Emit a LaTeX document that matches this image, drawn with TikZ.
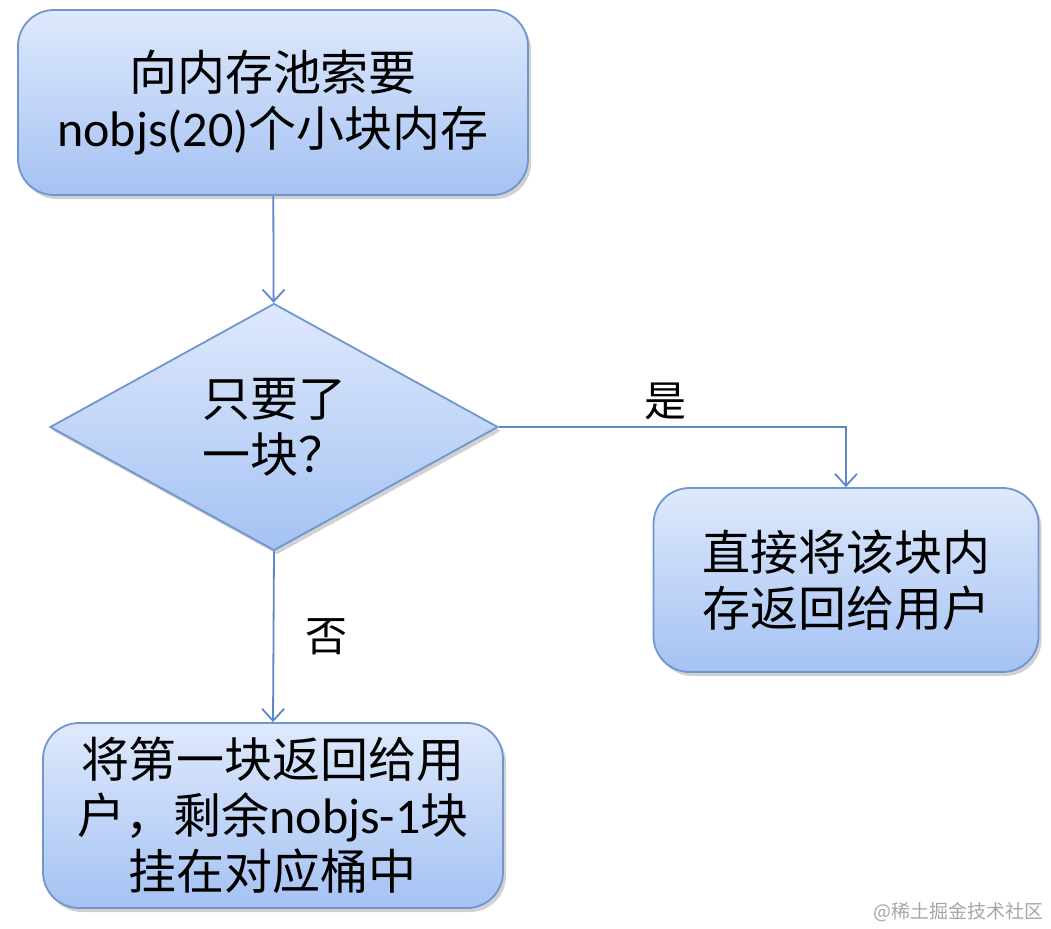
\documentclass[tikz,border=0pt]{standalone}
\usepackage{fontspec}
\setmainfont{Noto Sans CJK SC}
\newfontfamily\latfont{Carlito}
\usepackage{xcolor}
\usepackage{tikz}
\usetikzlibrary{arrows.meta,shapes.geometric,shadows}

\definecolor{boxtop}{HTML}{DEE9FC}
\definecolor{boxbot}{HTML}{A5C2F3}
\definecolor{boxline}{HTML}{7195CD}
\definecolor{flowline}{HTML}{5F87C6}

\begin{document}
\begin{tikzpicture}[
  x=0.5pt, y=-0.5pt,
  >={Straight Barb[length=6pt,width=11pt,line width=0.9pt]},
  font=\fontsize{24}{28}\selectfont,
  shade/.style={draw=boxline, line width=0.9pt, top color=boxtop, bottom color=boxbot,
    drop shadow={shadow xshift=1.5pt, shadow yshift=-2pt, opacity=0.3, fill=black!60}},
  proc/.style={shade, rounded corners=18pt, align=center, inner sep=0pt},
  decide/.style={shade, diamond, align=center, inner sep=0pt},
  flow/.style={->, draw=flowline, line width=0.9pt},
  lbl/.style={font=\fontsize{21}{24}\selectfont},
]
  \useasboundingbox (0,0) rectangle (1051,928);

  % ---------------- nodes ----------------
  \node[proc, minimum width=255pt, minimum height=92.5pt] (ask) at (273,102.5)
    {向内存池索要\\{\latfont\fontsize{25}{28}\selectfont nobjs(20)}个小块内存};
  \node[decide, minimum width=224pt, minimum height=123.5pt] (one) at (274,427)
    {只要了\\一块？};
  \node[proc, minimum width=192.5pt, minimum height=92pt] (direct) at (846,580)
    {直接将该块内\\存返回给用户};
  \node[proc, minimum width=230pt, minimum height=92.5pt] (split) at (273,815.5)
    {将第一块返回给用\\户，剩余{\latfont\fontsize{25}{28}\selectfont nobjs-1}块\\挂在对应桶中};

  % ---------------- connectors ----------------
  \draw[flow] (ask) -- (one);
  \draw[flow] (one.east) -| node[lbl, above, pos=0.24] {是} (direct.north);
  \draw[flow] (one.south) -- node[lbl, right=12pt] {否} (split.north);

  % watermark
  \node[font=\fontsize{9.5}{11}\selectfont, text=black!35, inner sep=0pt, anchor=east] (mark)
    at (1044,912) {@稀土掘金技术社区};
\end{tikzpicture}
\end{document}
